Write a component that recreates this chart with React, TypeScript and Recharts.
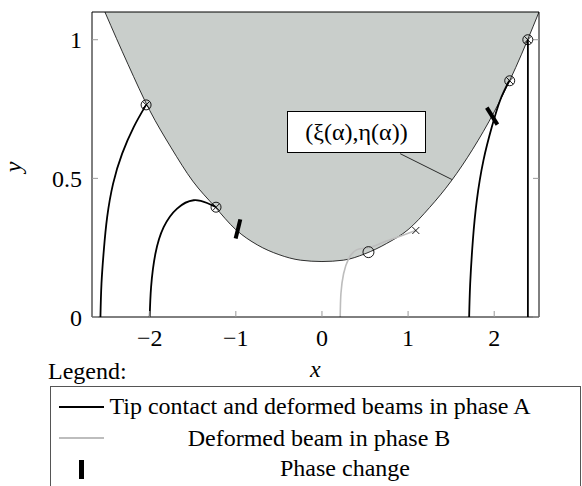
import React from "react";
import { ComposedChart, Area, Line, Scatter, XAxis, YAxis, ReferenceLine } from "recharts";

// boundary curve (ξ(α), η(α))
const boundary = [
  { x: -2.52, y: 1.1 },
  { x: -2.25, y: 0.91 },
  { x: -2.0, y: 0.745 },
  { x: -1.75, y: 0.61 },
  { x: -1.5, y: 0.49 },
  { x: -1.25, y: 0.4 },
  { x: -1.0, y: 0.315 },
  { x: -0.75, y: 0.26 },
  { x: -0.5, y: 0.225 },
  { x: -0.25, y: 0.205 },
  { x: 0, y: 0.2 },
  { x: 0.25, y: 0.205 },
  { x: 0.5, y: 0.228 },
  { x: 0.75, y: 0.265 },
  { x: 1.0, y: 0.315 },
  { x: 1.25, y: 0.395 },
  { x: 1.5, y: 0.49 },
  { x: 1.75, y: 0.605 },
  { x: 2.0, y: 0.74 },
  { x: 2.25, y: 0.9 },
  { x: 2.52, y: 1.1 },
];

// phase A beams
const beamA1 = [
  { x: -2.572, y: 0 },
  { x: -2.56, y: 0.12 },
  { x: -2.533, y: 0.24 },
  { x: -2.494, y: 0.36 },
  { x: -2.425, y: 0.481 },
  { x: -2.32, y: 0.589 },
  { x: -2.186, y: 0.685 },
  { x: -2.042, y: 0.765 },
];
const beamA2 = [
  { x: -2.0, y: 0 },
  { x: -1.984, y: 0.108 },
  { x: -1.934, y: 0.228 },
  { x: -1.838, y: 0.324 },
  { x: -1.682, y: 0.391 },
  { x: -1.49, y: 0.421 },
  { x: -1.334, y: 0.411 },
  { x: -1.235, y: 0.397 },
];
const beamA3 = [
  { x: 1.709, y: 0 },
  { x: 1.721, y: 0.12 },
  { x: 1.752, y: 0.276 },
  { x: 1.798, y: 0.421 },
  { x: 1.875, y: 0.565 },
  { x: 1.972, y: 0.685 },
  { x: 2.068, y: 0.781 },
  { x: 2.175, y: 0.852 },
];
const beamA4 = [
  { x: 2.391, y: 0 },
  { x: 2.391, y: 1.0 },
];

// phase B beam
const beamB = [
  { x: 0.212, y: 0 },
  { x: 0.22, y: 0.084 },
  { x: 0.251, y: 0.156 },
  { x: 0.309, y: 0.21 },
  { x: 0.406, y: 0.243 },
  { x: 0.541, y: 0.25 },
  { x: 0.676, y: 0.265 },
  { x: 0.831, y: 0.283 },
  { x: 0.986, y: 0.3 },
  { x: 1.09, y: 0.312 },
];

// phase change marks
const markLeft = [
  { x: -0.948, y: 0.352 },
  { x: -1.002, y: 0.283 },
];
const markRight = [
  { x: 1.914, y: 0.755 },
  { x: 2.037, y: 0.694 },
];

const contactPoints = [
  { x: -2.042, y: 0.765 },
  { x: -1.23, y: 0.396 },
  { x: 2.18, y: 0.852 },
  { x: 2.39, y: 1.0 },
];
const phaseBPoints = [{ x: 0.54, y: 0.234 }];
const endPoints = [{ x: 1.09, y: 0.312 }];

const leader = [
  { x: 0.908, y: 0.589 },
  { x: 1.508, y: 0.496 },
];

const xTicks = [-2, -1, 0, 1, 2];
const yTicks = [0, 0.5, 1];

const serif = "Liberation Serif, Times New Roman, serif";
const tickStyle = { fontFamily: serif, fontSize: 24, fill: "#000" };
const fmt = (v: number) => (v < 0 ? `\u2212${-v}` : `${v}`);

const CrossCircle = (p: any) => (
  <g stroke="#000" strokeWidth={0.9} fill="none">
    <circle cx={p.cx} cy={p.cy} r={5} />
    <line x1={p.cx - 3.5} y1={p.cy - 3.5} x2={p.cx + 3.5} y2={p.cy + 3.5} />
    <line x1={p.cx - 3.5} y1={p.cy + 3.5} x2={p.cx + 3.5} y2={p.cy - 3.5} />
  </g>
);
const OpenCircle = (p: any) => (
  <circle cx={p.cx} cy={p.cy} r={5.5} stroke="#000" strokeWidth={0.9} fill="none" />
);
const Cross = (p: any) => (
  <g stroke="#000" strokeWidth={0.9}>
    <line x1={p.cx - 3.5} y1={p.cy - 3.5} x2={p.cx + 3.5} y2={p.cy + 3.5} />
    <line x1={p.cx - 3.5} y1={p.cy + 3.5} x2={p.cx + 3.5} y2={p.cy - 3.5} />
  </g>
);

const abs = (left: number, top: number, extra: React.CSSProperties = {}): React.CSSProperties => ({
  position: "absolute",
  left,
  top,
  fontSize: 24,
  lineHeight: "24px",
  whiteSpace: "nowrap",
  ...extra,
});

export default function App() {
  return (
    <div
      style={{
        position: "absolute",
        left: 0,
        top: 0,
        width: 582,
        height: 486,
        overflow: "hidden",
        background: "#fff",
        fontFamily: serif,
      }}
    >
      <ComposedChart
        width={582}
        height={486}
        margin={{ top: 12, right: 0, bottom: 129, left: 0 }}
        style={{ fontFamily: serif }}
      >
        <XAxis
          type="number"
          dataKey="x"
          domain={[-2.67, 2.52]}
          ticks={xTicks}
          allowDataOverflow
          height={40}
          tickSize={-6}
          tickMargin={18}
          tickFormatter={fmt}
          tick={tickStyle}
          axisLine={{ stroke: "#000" }}
          tickLine={{ stroke: "#999" }}
        />
        <YAxis
          type="number"
          dataKey="y"
          domain={[0, 1.1]}
          ticks={yTicks}
          allowDataOverflow
          width={92}
          tickSize={-6}
          tickMargin={16}
          tick={tickStyle}
          axisLine={{ stroke: "#000" }}
          tickLine={{ stroke: "#999" }}
        />
        <YAxis
          yAxisId="r"
          orientation="right"
          type="number"
          dataKey="y"
          domain={[0, 1.1]}
          ticks={yTicks}
          allowDataOverflow
          width={43}
          tickSize={-6}
          tickFormatter={() => ""}
          axisLine={{ stroke: "#000" }}
          tickLine={{ stroke: "#999" }}
        />
        <Area
          data={boundary}
          dataKey="y"
          type="monotone"
          baseValue={1.1}
          fill="#c9cecb"
          fillOpacity={1}
          stroke="#000"
          strokeWidth={0.8}
          isAnimationActive={false}
        />
        <ReferenceLine y={1.1} stroke="#000" />
        <Line data={leader} dataKey="y" type="linear" stroke="#000" strokeWidth={0.8} dot={false} isAnimationActive={false} />
        <Line data={beamB} dataKey="y" type="natural" stroke="#bdbdbd" strokeWidth={1.6} dot={false} isAnimationActive={false} />
        <Line data={beamA1} dataKey="y" type="natural" stroke="#000" strokeWidth={1.8} dot={false} isAnimationActive={false} />
        <Line data={beamA2} dataKey="y" type="natural" stroke="#000" strokeWidth={1.8} dot={false} isAnimationActive={false} />
        <Line data={beamA3} dataKey="y" type="natural" stroke="#000" strokeWidth={1.8} dot={false} isAnimationActive={false} />
        <Line data={beamA4} dataKey="y" type="linear" stroke="#000" strokeWidth={1.8} dot={false} isAnimationActive={false} />
        <Line data={markLeft} dataKey="y" type="linear" stroke="#000" strokeWidth={4} dot={false} isAnimationActive={false} />
        <Line data={markRight} dataKey="y" type="linear" stroke="#000" strokeWidth={4} dot={false} isAnimationActive={false} />
        <Scatter data={contactPoints} shape={CrossCircle} isAnimationActive={false} />
        <Scatter data={phaseBPoints} shape={OpenCircle} isAnimationActive={false} />
        <Scatter data={endPoints} shape={Cross} isAnimationActive={false} />
      </ComposedChart>

      {/* annotation box */}
      <div
        style={abs(287, 111, {
          width: 137,
          height: 40,
          border: "1px solid #000",
          background: "#fff",
          textAlign: "center",
          lineHeight: "40px",
        })}
      >
        (ξ(α),η(α))
      </div>

      {/* axis labels */}
      <div style={abs(310, 357, { fontStyle: "italic" })}>x</div>
      <div style={abs(8, 155, { fontStyle: "italic", transform: "rotate(-90deg)" })}>y</div>

      {/* legend */}
      <div style={abs(48, 359)}>Legend:</div>
      <div style={{ position: "absolute", left: 50, top: 386, width: 529, height: 120, border: "1px solid #555" }} />
      <div style={{ position: "absolute", left: 59, top: 406, width: 45, height: 2, background: "#000" }} />
      <div style={{ position: "absolute", left: 59, top: 437, width: 45, height: 2, background: "#bdbdbd" }} />
      <div style={{ position: "absolute", left: 79, top: 460, width: 5, height: 19, background: "#000" }} />
      <div style={abs(70, 394, { width: 500, textAlign: "center" })}>Tip contact and deformed beams in phase A</div>
      <div style={abs(69, 426, { width: 500, textAlign: "center" })}>Deformed beam in phase B</div>
      <div style={abs(95, 456, { width: 500, textAlign: "center" })}>Phase change</div>
    </div>
  );
}
